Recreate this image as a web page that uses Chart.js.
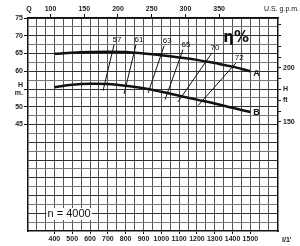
<!DOCTYPE html>
<html>
<head>
<meta charset="utf-8">
<script src="https://cdn.jsdelivr.net/npm/chart.js@4"></script>
<style>
  html, body { margin: 0; padding: 0; background: #fff; }
  #chart { display: block; }
</style>
</head>
<body>
<canvas id="chart" width="300" height="246"></canvas>
<script>
// flow in l/min, head in m
const flow = [400, 500, 600, 700, 800, 900, 1000, 1100, 1200, 1300, 1400, 1500];
const headA = [64.9, 65.2, 65.4, 65.5, 65.4, 65.0, 64.5, 63.9, 63.2, 62.3, 61.3, 60.0];
const headB = [55.5, 56.2, 56.5, 56.4, 55.9, 55.2, 54.2, 53.1, 52.0, 50.9, 49.7, 48.5];

// iso-efficiency lines (top and bottom ends)
const etaLabels = ['57', '61', '63', '65', '70', '72'];
const etaTopQ = [735, 858, 1016, 1122, 1285, 1420];
const etaTopH = [67.5, 67.5, 67.2, 66.1, 65.2, 62.4];
const etaBotQ = [673, 791, 926, 1021, 1094, 1206];
const etaBotH = [54.5, 53.6, 53.9, 52.0, 51.4, 50.3];

// axis ticks
const qMin = 252, qMax = 1655;
const qGrid = [];
for (let v = 300; v <= 1650; v += 50) qGrid.push(v);
const qLabels = [400, 500, 600, 700, 800, 900, 1000, 1100, 1200, 1300, 1400, 1500];
const gpmLabels = [100, 150, 200, 250, 300, 350];
const hMin = 15, hMax = 75;
const hGrid = [];
for (let v = 17.5; v <= 75; v += 2.5) hGrid.push(v);
const hLabels = [45, 50, 55, 60, 65, 70, 75];
const ftTicks = [150, 160, 170, 180, 190, 200, 210, 220, 230, 240];
const ftLabels = { 150: '150', 170: 'ft', 180: 'H', 200: '200' };
const speed = 'n = 4000';

const GPM = 3.785, FT = 0.3048;
const tickFont = { family: 'Liberation Sans', size: 7, weight: 'bold' };

const datasets = [
  { data: flow.map((q, i) => ({ x: q, y: headA[i] })), borderColor: '#111', borderWidth: 2.5, tension: 0.4 },
  { data: flow.map((q, i) => ({ x: q, y: headB[i] })), borderColor: '#111', borderWidth: 2.5, tension: 0.4 }
];
etaLabels.forEach((l, i) => {
  datasets.push({
    data: [{ x: etaTopQ[i], y: etaTopH[i] }, { x: etaBotQ[i], y: etaBotH[i] }],
    borderColor: '#111', borderWidth: 1, tension: 0
  });
});

const textPlugin = {
  id: 'texts',
  afterDatasetsDraw(chart) {
    const c = chart.ctx, x = chart.scales.x, y = chart.scales.y, a = chart.chartArea;
    c.save();
    c.fillStyle = '#111';
    c.textAlign = 'center';
    c.textBaseline = 'middle';
    c.font = '8px "Liberation Sans"';
    etaLabels.forEach((l, i) => {
      c.fillText(l, x.getPixelForValue(etaTopQ[i]) + 3, y.getPixelForValue(etaTopH[i]) - 5);
    });
    c.font = 'bold 9px "Liberation Sans"';
    const n = flow.length - 1;
    c.fillText('A', x.getPixelForValue(flow[n]) + 6, y.getPixelForValue(headA[n]) + 2);
    c.fillText('B', x.getPixelForValue(flow[n]) + 6, y.getPixelForValue(headB[n]));
    c.font = 'bold 15px "DejaVu Sans"';
    c.fillText('η%', x.getPixelForValue(1420), y.getPixelForValue(69.4));
    c.font = '11px "Liberation Sans"';
    c.fillStyle = '#fff';
    const tw = c.measureText(speed).width;
    c.fillRect(x.getPixelForValue(483) - tw / 2 - 1, y.getPixelForValue(19.8) - 6, tw + 2, 12);
    c.fillStyle = '#111';
    c.fillText(speed, x.getPixelForValue(483), y.getPixelForValue(19.8));
    c.font = 'bold 7px "Liberation Sans"';
    c.fillText('Q', a.left + 1, 9);
    c.textAlign = 'left';
    c.fillText("l/1'", a.right + 4, 240);
    c.textAlign = 'right';
    c.font = '7px "Liberation Sans"';
    c.fillText('U.S. g.p.m.', 299, 9);
    c.restore();
  }
};

new Chart(document.getElementById('chart'), {
  type: 'line',
  data: { datasets: datasets },
  options: {
    responsive: false,
    animation: false,
    layout: { padding: 0 },
    elements: { point: { radius: 0 } },
    plugins: { legend: { display: false }, tooltip: { enabled: false } },
    scales: {
      x: {
        type: 'linear', position: 'bottom', min: qMin, max: qMax,
        afterBuildTicks: s => { s.ticks = qGrid.map(v => ({ value: v })); },
        afterFit: s => { s.height = 15; },
        ticks: {
          autoSkip: false, maxRotation: 0, padding: 1, color: '#222', font: tickFont,
          callback: v => qLabels.includes(v) ? String(v) : ''
        },
        grid: {
          color: '#555', lineWidth: 1, tickLength: 3,
          tickColor: ctx => ctx.tick && qLabels.includes(ctx.tick.value) ? '#111' : 'rgba(0,0,0,0)'
        },
        border: { color: '#111', width: 1.5 }
      },
      x2: {
        type: 'linear', position: 'top', min: qMin / GPM, max: qMax / GPM,
        afterBuildTicks: s => { s.ticks = gpmLabels.map(v => ({ value: v })); },
        afterFit: s => { s.height = 18; },
        ticks: { autoSkip: false, maxRotation: 0, padding: 1, color: '#222', font: tickFont },
        grid: { drawOnChartArea: false, tickLength: 4, tickColor: '#111' },
        border: { color: '#111', width: 1.5 }
      },
      y: {
        type: 'linear', position: 'left', min: hMin, max: hMax,
        afterBuildTicks: s => { s.ticks = hGrid.map(v => ({ value: v })); },
        afterFit: s => { s.width = 28; },
        ticks: {
          autoSkip: false, padding: 1, color: '#222', font: tickFont,
          callback: v => v === 55 ? ['H', 'm.'] : (hLabels.includes(v) ? String(v) : '')
        },
        grid: {
          color: ctx => ctx.tick && ctx.tick.value % 5 === 0 ? '#333' : '#777',
          lineWidth: 1, tickLength: 4,
          tickColor: ctx => ctx.tick && hLabels.includes(ctx.tick.value) ? '#111' : 'rgba(0,0,0,0)'
        },
        border: { color: '#111', width: 1.5 }
      },
      y2: {
        type: 'linear', position: 'right', min: hMin / FT, max: hMax / FT,
        afterBuildTicks: s => { s.ticks = ftTicks.map(v => ({ value: v })); },
        afterFit: s => { s.width = 22; },
        ticks: {
          autoSkip: false, padding: 2, color: '#222', font: tickFont,
          callback: v => ftLabels[v] || ''
        },
        grid: { drawOnChartArea: false, tickLength: 3, tickColor: '#111' },
        border: { color: '#111', width: 1.5 }
      }
    }
  },
  plugins: [textPlugin]
});
</script>
</body>
</html>
